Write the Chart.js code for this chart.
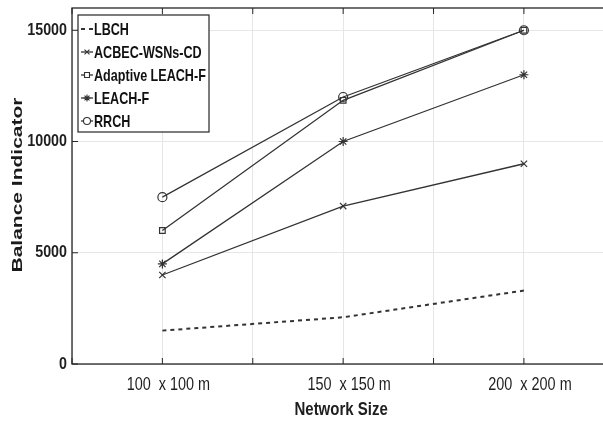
<!DOCTYPE html>
<html>
<head>
<meta charset="utf-8">
<script src="https://cdn.jsdelivr.net/npm/chart.js@4.4.0/dist/chart.umd.min.js"></script>
<style>
  html, body { margin: 0; padding: 0; background: #fff; overflow: hidden; }
  #wrap { position: relative; width: 620px; height: 421px; }
</style>
</head>
<body>
<div id="wrap"><canvas id="myChart"></canvas></div>
<script>
// network sizes (side length in m) and their tick labels
const sizes = [100, 150, 200];
const sizeLabels = ['100  x 100 m', '150  x 150 m', '200  x 200 m'];

// balance indicator per method
const lbch = [1500, 2100, 3300];
const acbec = [4000, 7100, 9000];
const adaptiveLeachF = [6000, 11850, 15000];
const leachF = [4500, 10000, 13000];
const rrch = [7500, 12000, 15000];

const yTicks = [0, 5000, 10000, 15000];
const yTitle = 'Balance Indicator';
const xTitle = 'Network Size';

const FONT = "'Liberation Sans', Arial, sans-serif";
const INK = '#262626';
const LINE = '#333333';

function pts(vals) {
  return sizes.map((s, i) => ({ x: s, y: vals[i] }));
}

function series(label, vals, style, extra) {
  return Object.assign({
    label: label,
    data: pts(vals),
    borderColor: LINE,
    backgroundColor: 'rgba(0,0,0,0)',
    borderWidth: 1.3,
    pointStyle: style,
    pointRadius: 4.5,
    pointBorderColor: LINE,
    pointBorderWidth: 1.2,
    showLine: true,
    tension: 0,
    fill: false
  }, extra || {});
}

// squeezed text, the original uses a narrow face
function narrowText(ctx, txt, x, y, font, sx, align) {
  ctx.save();
  ctx.font = font;
  ctx.textBaseline = 'middle';
  ctx.textAlign = 'left';
  const w = ctx.measureText(txt).width * sx;
  let x0 = x;
  if (align === 'center') x0 = x - w / 2;
  if (align === 'right') x0 = x - w;
  ctx.translate(x0, y);
  ctx.scale(sx, 1);
  ctx.fillText(txt, 0, 0);
  ctx.restore();
}

// box, inner ticks, labels and a matlab-like legend
const axesBox = {
  id: 'axesBox',
  afterDatasetsDraw(chart) {
    const { ctx, chartArea: a, scales } = chart;
    ctx.save();
    ctx.strokeStyle = INK;
    ctx.lineWidth = 1.3;
    ctx.strokeRect(a.left, a.top, a.right - a.left, a.bottom - a.top);
    ctx.lineWidth = 1;
    for (let v = 75; v <= 225; v += 25) {
      const x = scales.x.getPixelForValue(v);
      ctx.beginPath();
      ctx.moveTo(x, a.bottom); ctx.lineTo(x, a.bottom - 6);
      ctx.moveTo(x, a.top); ctx.lineTo(x, a.top + 6);
      ctx.stroke();
    }
    yTicks.forEach(v => {
      const y = scales.y.getPixelForValue(v);
      ctx.beginPath();
      ctx.moveTo(a.left, y); ctx.lineTo(a.left + 6, y);
      ctx.stroke();
    });

    // tick labels and titles
    ctx.fillStyle = '#1e1e1e';
    yTicks.forEach(v => {
      narrowText(ctx, String(v), a.left - 5, scales.y.getPixelForValue(v), 'bold 17px ' + FONT, 0.84, 'right');
    });
    sizes.forEach((s, i) => {
      narrowText(ctx, sizeLabels[i], scales.x.getPixelForValue(s) + 6, a.bottom + 21, '19px ' + FONT, 0.76, 'center');
    });
    narrowText(ctx, xTitle, (a.left + a.right) / 2 - 2, a.bottom + 46, 'bold 19px ' + FONT, 0.79, 'center');

    ctx.save();
    ctx.translate(18, (a.top + a.bottom) / 2 - 1);
    ctx.rotate(-Math.PI / 2);
    ctx.font = 'bold 15px ' + FONT;
    const tw = ctx.measureText(yTitle).width;
    ctx.scale(175 / tw, 1);
    ctx.fillStyle = '#1a1a1a';
    ctx.textAlign = 'center';
    ctx.textBaseline = 'middle';
    ctx.fillText(yTitle, 0, 0);
    ctx.restore();

    // legend
    const lx = a.left + 6, ly = a.top + 7, lw = 131, lh = 117;
    ctx.fillStyle = '#fff';
    ctx.fillRect(lx, ly, lw, lh);
    ctx.strokeStyle = INK;
    ctx.lineWidth = 1.2;
    ctx.strokeRect(lx, ly, lw, lh);
    chart.data.datasets.forEach((ds, i) => {
      const y = ly + 14 + i * 23;
      ctx.strokeStyle = LINE;
      ctx.lineWidth = ds.borderWidth;
      ctx.setLineDash(ds.borderDash || []);
      ctx.beginPath();
      ctx.moveTo(lx + 3, y); ctx.lineTo(lx + 15, y);
      ctx.stroke();
      ctx.setLineDash([]);
      if (ds.pointRadius > 0) {
        ctx.lineWidth = 1.1;
        ctx.fillStyle = '#fff';
        Chart.helpers.drawPoint(ctx, { pointStyle: ds.pointStyle, radius: 3.5, rotation: 0, borderWidth: 1.1 }, lx + 9, y);
      }
      ctx.fillStyle = '#111';
      narrowText(ctx, ds.label, lx + 16, y + 1, 'bold 17px ' + FONT, 0.74, 'left');
    });
    ctx.restore();
  }
};

const ctx = document.getElementById('myChart');
const chart = new Chart(ctx, {
  type: 'scatter',
  data: {
    datasets: [
      series('LBCH', lbch, 'circle', { borderDash: [4, 4], borderWidth: 2, pointRadius: 0 }),
      series('ACBEC-WSNs-CD', acbec, 'crossRot'),
      series('Adaptive LEACH-F', adaptiveLeachF, 'rect', { pointRadius: 4 }),
      series('LEACH-F', leachF, 'star'),
      series('RRCH', rrch, 'circle')
    ]
  },
  options: {
    responsive: true,
    maintainAspectRatio: false,
    animation: false,
    layout: { padding: { top: 8, right: 4, left: 0, bottom: 0 } },
    plugins: {
      legend: { display: false },
      tooltip: { enabled: false }
    },
    scales: {
      x: {
        type: 'linear',
        min: 75,
        max: 225,
        afterBuildTicks(scale) {
          scale.ticks = [75, 100, 125, 150, 175, 200, 225].map(v => ({ value: v }));
        },
        afterFit(scale) { scale.height = 57; },
        grid: { color: '#e6e6e6', lineWidth: 1, drawTicks: false },
        border: { display: false },
        ticks: { display: false }
      },
      y: {
        min: 0,
        max: 16000,
        afterBuildTicks(scale) {
          scale.ticks = yTicks.map(v => ({ value: v }));
        },
        afterFit(scale) { scale.width = 72; },
        grid: { color: '#e6e6e6', lineWidth: 1, drawTicks: false },
        border: { display: false },
        ticks: { display: false }
      }
    }
  },
  plugins: [axesBox]
});
</script>
</body>
</html>
